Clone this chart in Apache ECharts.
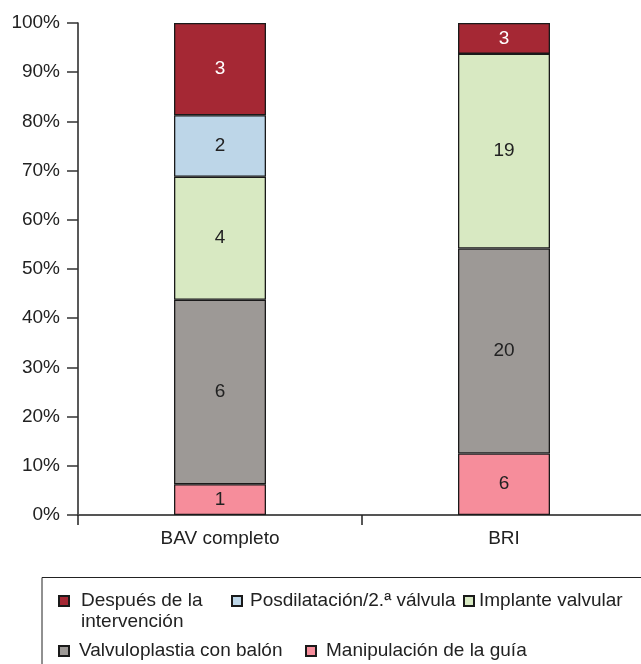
<!DOCTYPE html>
<html>
<head>
<meta charset="utf-8">
<script src="https://cdn.jsdelivr.net/npm/echarts@6/dist/echarts.min.js"></script>
<style>
  html, body { margin: 0; padding: 0; background: #fff; }
  #chart { width: 641px; height: 664px; }
</style>
</head>
<body>
<div id="chart"></div>
<script>
// datos (número de casos por categoría)
const categories = ['BAV completo', 'BRI']
const guia = [1, 6]          // Manipulación de la guía
const balon = [6, 20]        // Valvuloplastia con balón
const implante = [4, 19]     // Implante valvular
const posdil = [2, 0]        // Posdilatación/2.ª válvula
const despues = [3, 3]       // Después de la intervención
const yTicks = [0, 10, 20, 30, 40, 50, 60, 70, 80, 90, 100]

const names = ['Manipulación de la guía', 'Valvuloplastia con balón', 'Implante valvular', 'Posdilatación/2.ª válvula', 'Después de la intervención']
const colors = ['#F68D9B', '#9D9996', '#D8E9C2', '#BDD6E8', '#A52834']
const stacks = [guia, balon, implante, posdil, despues]

const totals = categories.map((c, i) => stacks.reduce((s, arr) => s + arr[i], 0))

const chart = echarts.init(document.getElementById('chart'))
const font = 'Liberation Sans, Arial, sans-serif'
const fs = 19

const series = stacks.map((arr, k) => ({
  name: names[k],
  type: 'bar',
  stack: 'total',
  barWidth: 92,
  data: arr.map((v, i) => ({ value: v / totals[i] * 100, raw: v })),
  itemStyle: { color: colors[k], borderColor: '#1a1a1a', borderWidth: 1.3 },
  label: {
    show: true,
    position: 'inside',
    fontFamily: font,
    fontSize: fs,
    color: k === 4 ? '#fff' : '#222',
    formatter: p => (p.data.raw === 0 ? '' : String(p.data.raw))
  },
  emphasis: { disabled: true }
}))

function leg (name, left, top, padLeft, fmt) {
  return {
    data: [name],
    left: left,
    top: top,
    padding: 0,
    itemWidth: 10,
    itemHeight: 10,
    icon: 'rect',
    selectedMode: false,
    formatter: fmt || (n => n),
    textStyle: {
      fontFamily: font,
      fontSize: fs,
      color: '#222',
      lineHeight: 21,
      padding: [0, 0, 0, padLeft]
    }
  }
}

const option = {
  backgroundColor: '#fff',
  animation: false,
  // el eje X sigue un poco más allá del borde derecho
  grid: { left: 78, width: 568, top: 23, bottom: 149, outerBoundsMode: 'none' },
  xAxis: {
    type: 'category',
    data: categories,
    axisLine: { show: true, lineStyle: { color: '#555', width: 2 } },
    axisTick: { show: true, alignWithLabel: false, length: 10, lineStyle: { color: '#222', width: 1.5 } },
    axisLabel: { fontFamily: font, fontSize: fs, color: '#222', margin: 14 }
  },
  yAxis: {
    type: 'value',
    min: yTicks[0],
    max: yTicks[yTicks.length - 1],
    interval: 10,
    axisLine: { show: true, lineStyle: { color: '#222', width: 1.5 } },
    axisTick: { show: true, length: 11, lineStyle: { color: '#333', width: 1.5 } },
    splitLine: { show: false },
    axisLabel: { fontFamily: font, fontSize: fs, color: '#222', margin: 18, formatter: v => v + '%' }
  },
  legend: [
    // línea vacía delante para que la primera línea quede alineada con el icono
    leg('Después de la intervención', 58, 569.5, 7, () => '\nDespués de la\nintervención'),
    leg('Posdilatación/2.ª válvula', 231, 590.5, 3),
    leg('Implante valvular', 463, 590.5, 0),
    leg('Valvuloplastia con balón', 58, 640.5, 5),
    leg('Manipulación de la guía', 305, 640.5, 5)
  ],
  graphic: [{
    type: 'rect',
    shape: { x: 42, y: 577.5, width: 640, height: 120 },
    style: { fill: 'none', stroke: '#222', lineWidth: 1 },
    silent: true
  }],
  series: series
}

chart.setOption(option)
</script>
</body>
</html>
